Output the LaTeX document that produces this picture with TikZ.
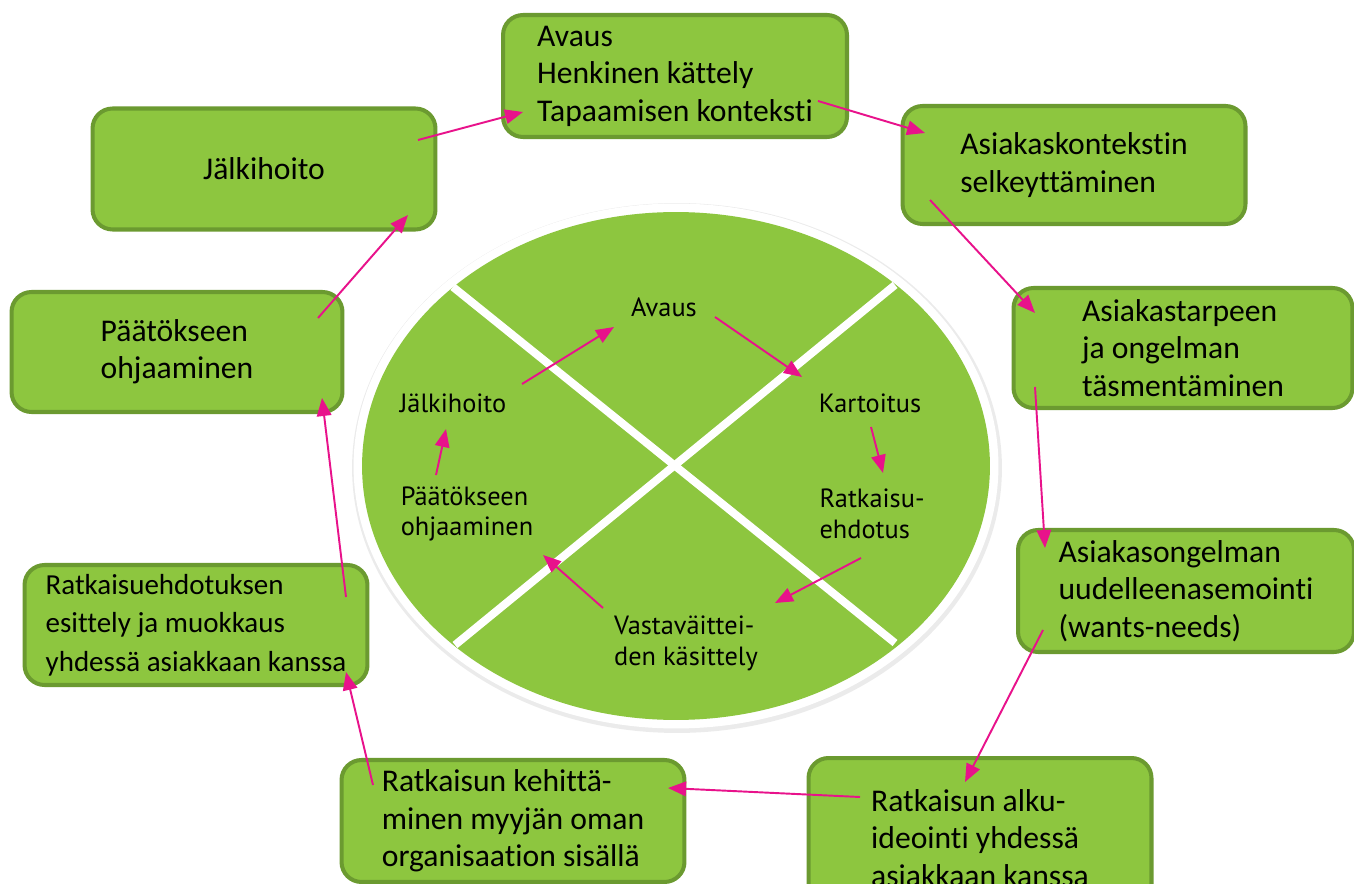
\documentclass[tikz,border=0pt]{standalone}
\usepackage{fontspec}
\setmainfont[Ligatures={NoCommon,NoContextual},Contextuals=NoAlternate]{Carlito}
\newfontfamily\ptsans[Ligatures=NoCommon]{PT Sans}
\usetikzlibrary{arrows.meta,positioning}
\definecolor{leaf}{HTML}{8DC63F}
\definecolor{leafedge}{HTML}{6B9A30}
\definecolor{arrowpink}{HTML}{E8128B}

\begin{document}
\begin{tikzpicture}[x=0.02cm,y=-0.02cm,
  stepbox/.style={rectangle,rounded corners=0.4cm,draw=leafedge,line width=2.3pt,fill=leaf,minimum width=6.86cm,minimum height=2.4cm,align=left,inner sep=0pt,font=\fontsize{18}{21.3}\selectfont},
  phase/.style={align=left,inner sep=0pt,font=\ptsans\fontsize{15}{17.6}\selectfont},
  flow/.style={draw=arrowpink,line width=1.1pt,-{Triangle[length=3.6mm,width=2.9mm]}}]
\useasboundingbox (0,0) rectangle (1354,884);
\clip (0,0) rectangle (1354,884);
% central cycle
\fill[black!8] (677,468) ellipse [x radius=6.5cm, y radius=5.3cm];
\fill[white] (676,466) ellipse [x radius=6.45cm, y radius=5.25cm];
\fill[leaf] (676,466) ellipse [x radius=6.28cm, y radius=5.08cm];
\draw[white,line width=4.5pt] (453,287) -- (895,643);
\draw[white,line width=4.5pt] (895,285) -- (455,645);
       \node [phase] (iAvaus) at (664,307) {Avaus};
       \node [phase] (iKartoitus) at (870,403) {Kartoitus};
       \node [phase] (iRatkaisu) at (872,514) {Ratkaisu-\\ehdotus};
       \node [phase] (iVasta) at (686,643) {Vastaväittei-\\den käsittely};
       \node [phase] (iPaatos) at (467,514) {Päätökseen\\ohjaaminen};
       \node [phase] (iJalki) at (453,403) {Jälkihoito};
\draw [flow] ([shift={(69,-19)}]iJalki.center) -- ([shift={(-50,20)}]iAvaus.center);
\draw [flow] ([shift={(51,10)}]iAvaus.center) -- ([shift={(-68,-26)}]iKartoitus.center);
\draw [flow] ([shift={(1,24)}]iKartoitus.center) -- ([shift={(11,-41)}]iRatkaisu.center);
\draw [flow] ([shift={(-11,44)}]iRatkaisu.center) -- ([shift={(89,-40)}]iVasta.center);
\draw [flow] ([shift={(-83,-35)}]iVasta.center) -- ([shift={(76,41)}]iPaatos.center);
\draw [flow] ([shift={(-31,-39)}]iPaatos.center) -- ([shift={(-7,26)}]iJalki.center);
% outer process
       \node [stepbox,minimum width=6.88cm,minimum height=2.44cm] (bAvaus) at (675,76) {Avaus\\Henkinen kättely\\Tapaamisen konteksti};
       \node [stepbox,minimum height=2.36cm] (bKonteksti) at (1074,165) {Asiakaskontekstin\\selkeyttäminen};
       \node [stepbox,minimum width=6.78cm] (bTarve) at (1183,348) {Asiakastarpeen\\ja ongelman\\täsmentäminen};
       \node [stepbox,minimum width=6.72cm,minimum height=2.44cm] (bOngelma) at (1186,591) {Asiakasongelman\\uudelleenasemointi\\(wants-needs)};
       \node [stepbox,minimum height=3.2cm] (bAlku) at (980,838) {Ratkaisun alku-\\ideointi yhdessä\\asiakkaan kanssa};
       \node [stepbox,minimum height=2.44cm] (bKehitys) at (513,821) {Ratkaisun kehittä-\\minen myyjän oman\\organisaation sisällä};
       \node [stepbox,font=\fontsize{16.5}{22}\selectfont] (bEhdotus) at (196,625) {Ratkaisuehdotuksen\\esittely ja muokkaus\\yhdessä asiakkaan kanssa};
       \node [stepbox,minimum width=6.62cm] (bPaatos) at (177,352) {Päätökseen\\ohjaaminen};
       \node [stepbox,minimum height=2.42cm] (bJalki) at (264,169) {Jälkihoito};
\draw [flow] ([shift={(154,-29)}]bJalki.center) -- ([shift={(-152,36)}]bAvaus.center);
\draw [flow] ([shift={(143,25)}]bAvaus.center) -- ([shift={(-149,-32)}]bKonteksti.center);
\draw [flow] ([shift={(-144,35)}]bKonteksti.center) -- ([shift={(-148,-35)}]bTarve.center);
\draw [flow] ([shift={(-148,39)}]bTarve.center) -- ([shift={(-141,-43)}]bOngelma.center);
\draw [flow] ([shift={(-143,39)}]bOngelma.center) -- ([shift={(-15,-56)}]bAlku.center);
\draw [flow] ([shift={(-120,-41)}]bAlku.center) -- ([shift={(155,-33)}]bKehitys.center);
\draw [flow] ([shift={(-140,-36)}]bKehitys.center) -- ([shift={(150,47)}]bEhdotus.center);
\draw [flow] ([shift={(150,-28)}]bEhdotus.center) -- ([shift={(145,46)}]bPaatos.center);
\draw [flow] ([shift={(141,-34)}]bPaatos.center) -- ([shift={(144,46)}]bJalki.center);
\end{tikzpicture}
\end{document}
